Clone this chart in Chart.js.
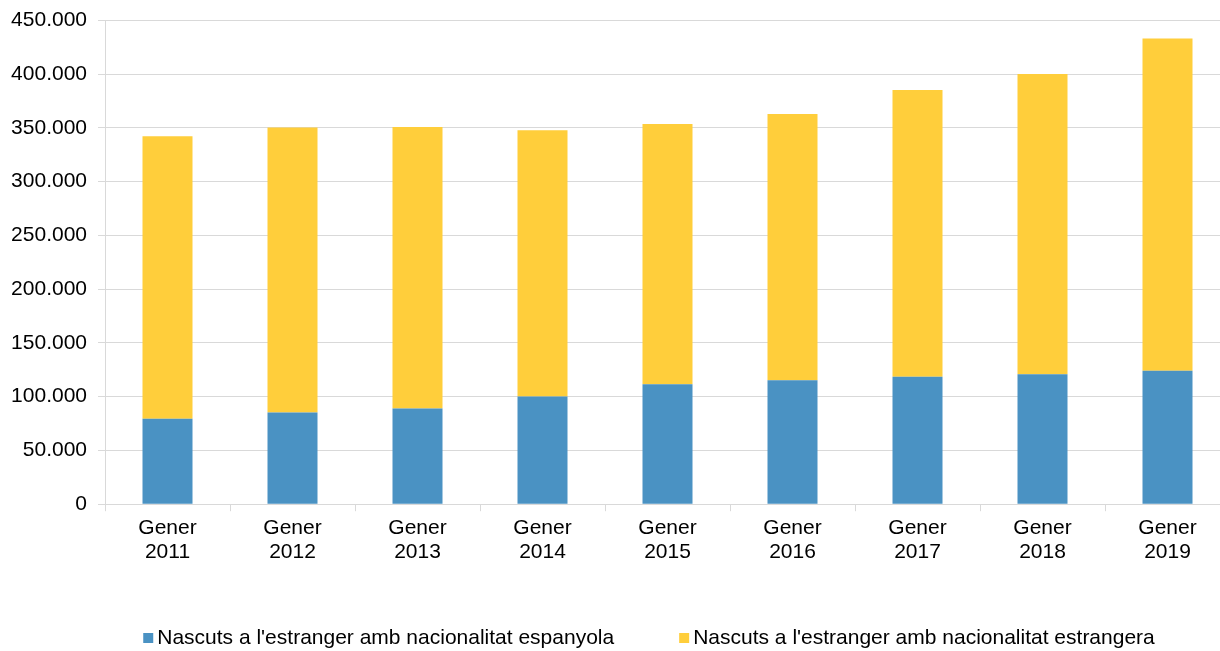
<!doctype html>
<html lang="ca">
  <head>
    <meta charset="utf-8">
    <title>Nascuts a l'estranger</title>
    <style>
      * {
        margin: 0;
        padding: 0;
      }
      body {
        background: #fff;
        overflow: hidden;
      }
      canvas {
        display: block;
      }
    </style>
  </head>
  <body>
    <canvas id="myChart" width="1232" height="651"></canvas>
    <script src="https://cdn.jsdelivr.net/npm/chart.js/dist/chart.umd.min.js"></script>
    <script>
    // data
    const years = ['2011', '2012', '2013', '2014', '2015', '2016', '2017', '2018', '2019'];
    const espanyola = [79500, 85400, 89100, 100300, 111500, 115200, 118600, 120800, 124200];
    const estrangera = [262700, 265100, 261800, 247500, 242200, 247800, 266700, 279400, 309100];
    const yTicks = [0, 50000, 100000, 150000, 200000, 250000, 300000, 350000, 400000, 450000];

    const FONT = "'Liberation Sans', Arial, sans-serif";
    const fmt = v => String(v).replace(/\B(?=(\d{3})+(?!\d))/g, '.');

    // legend drawn under the axis labels, items spaced like the office export
    const bottomLegend = {
      id: 'bottomLegend',
      afterDraw(chart) {
        const { ctx, data } = chart;
        const box = 10, gap = 4, itemGap = 65;
        ctx.save();
        ctx.font = '21px ' + FONT;
        ctx.textBaseline = 'middle';
        const widths = data.datasets.map(ds => ctx.measureText(ds.label).width);
        const total = widths.reduce((a, w) => a + box + gap + w, 0) + itemGap * (widths.length - 1);
        let x = 649 - total / 2;
        const y = 638;
        data.datasets.forEach((ds, i) => {
          ctx.fillStyle = ds.backgroundColor;
          ctx.fillRect(x, y - box / 2, box, box);
          x += box + gap;
          ctx.fillStyle = '#000';
          ctx.fillText(ds.label, x, y);
          x += widths[i] + itemGap;
        });
        ctx.restore();
      }
    };

    const config = {
      type: 'bar',
      data: {
        labels: years.map(y => ['Gener', y]),
        datasets: [{
          label: "Nascuts a l'estranger amb nacionalitat espanyola",
          data: espanyola,
          backgroundColor: '#4A92C3',
          barPercentage: 0.4,
          categoryPercentage: 1
        }, {
          label: "Nascuts a l'estranger amb nacionalitat estrangera",
          data: estrangera,
          backgroundColor: '#FFCE3B',
          barPercentage: 0.4,
          categoryPercentage: 1
        }]
      },
      options: {
        responsive: false,
        animation: false,
        layout: {
          padding: { top: 0, right: 2, bottom: 81.5, left: 0 }
        },
        scales: {
          x: {
            stacked: true,
            grid: {
              color: '#d9d9d9',
              tickLength: 7,
              drawOnChartArea: false
            },
            border: { color: '#d9d9d9' },
            ticks: {
              color: '#000',
              padding: 5,
              maxRotation: 0,
              font: { family: FONT, size: 21, lineHeight: 1.15 }
            }
          },
          y: {
            stacked: true,
            min: 0,
            max: 450000,
            afterFit(scale) { scale.width = 105; },
            afterBuildTicks(scale) { scale.ticks = yTicks.map(v => ({ value: v })); },
            grid: {
              color: '#d9d9d9',
              tickLength: 7
            },
            border: { color: '#d9d9d9' },
            ticks: {
              color: '#000',
              padding: 11,
              font: { family: FONT, size: 21, lineHeight: 0.9 },
              callback: v => fmt(v)
            }
          }
        },
        plugins: {
          legend: { display: false },
          tooltip: { enabled: false }
        }
      },
      plugins: [bottomLegend]
    };

    const myChart = new Chart(document.getElementById('myChart'), config);
    </script>
  </body>
</html>
